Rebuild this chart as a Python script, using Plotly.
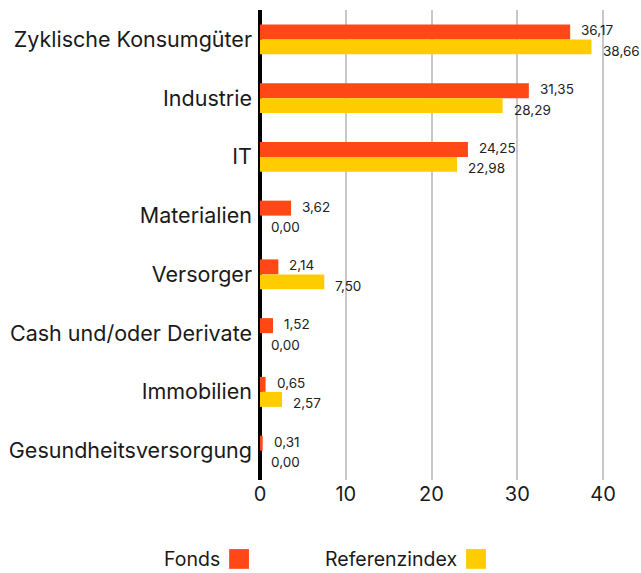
import plotly.graph_objects as go

categories = ["Zyklische Konsumgüter", "Industrie", "IT", "Materialien", "Versorger",
              "Cash und/oder Derivate", "Immobilien", "Gesundheitsversorgung"]
fonds = [36.17, 31.35, 24.25, 3.62, 2.14, 1.52, 0.65, 0.31]
referenz = [38.66, 28.29, 22.98, 0.00, 7.50, 0.00, 2.57, 0.00]
x_ticks = [0, 10, 20, 30, 40]

FONT = "Inter, Lato, sans-serif"
C_FONDS = "#ff4815"
C_REF = "#ffcc00"

fig = go.Figure()
for name, vals, col in [("Fonds", fonds, C_FONDS), ("Referenzindex", referenz, C_REF)]:
    fig.add_trace(go.Bar(y=categories, x=vals, orientation="h", name=name,
                         marker=dict(color=col, line=dict(width=0)),
                         hovertemplate="%{y}: %{x:.2f}<extra>" + name + "</extra>"))

# value labels next to the bar ends (Fonds slightly above, Referenzindex slightly below)
for vals, yshift in [(fonds, 9), (referenz, -11.5)]:
    for cat, v in zip(categories, vals):
        fig.add_annotation(x=v, y=cat, xref="x", yref="y", text=f"{v:.2f}".replace(".", ","),
                           showarrow=False, xanchor="left", yanchor="middle",
                           xshift=9, yshift=yshift,
                           font=dict(size=13.5, color="#222222", family=FONT))

fig.update_layout(
    width=641, height=573,
    margin=dict(l=260, r=0, t=10, b=93, autoexpand=False),
    barmode="group", bargap=0.49, bargroupgap=0,
    separators=",.",
    showlegend=False,
    plot_bgcolor="white", paper_bgcolor="white",
    font=dict(family=FONT, color="#1a1a1a"),
)
fig.update_xaxes(range=[0, 44.43], tickvals=x_ticks, ticktext=[str(v) for v in x_ticks],
                 showgrid=True, gridcolor="#c8c8c8", gridwidth=2,
                 zeroline=True, zerolinecolor="#000000", zerolinewidth=4,
                 showline=False, ticks="", automargin=False,
                 tickfont=dict(size=20, family=FONT, color="#1a1a1a"))
fig.update_yaxes(autorange="reversed", showgrid=False, showline=False, ticks="", automargin=False,
                 tickfont=dict(size=21.5, family=FONT, color="#1a1a1a"), ticklabelstandoff=7)

# custom legend: text followed by a colour square
legend_items = [("Fonds", C_FONDS, -0.10, -0.081, -0.029),
                ("Referenzindex", C_REF, 0.522, 0.541, 0.593)]
for label, color, tx, sx0, sx1 in legend_items:
    fig.add_annotation(xref="paper", yref="paper", x=tx, y=-0.168, xanchor="right", yanchor="middle",
                       text=label, showarrow=False, font=dict(size=19.5, family=FONT, color="#1a1a1a"))
    fig.add_shape(type="rect", xref="paper", yref="paper", x0=sx0, x1=sx1, y0=-0.189, y1=-0.147,
                  fillcolor=color, line=dict(width=0))

fig.write_html("out.html", config={"displayModeBar": False},
               post_script="document.body.style.margin='0';document.body.style.overflow='hidden';")
